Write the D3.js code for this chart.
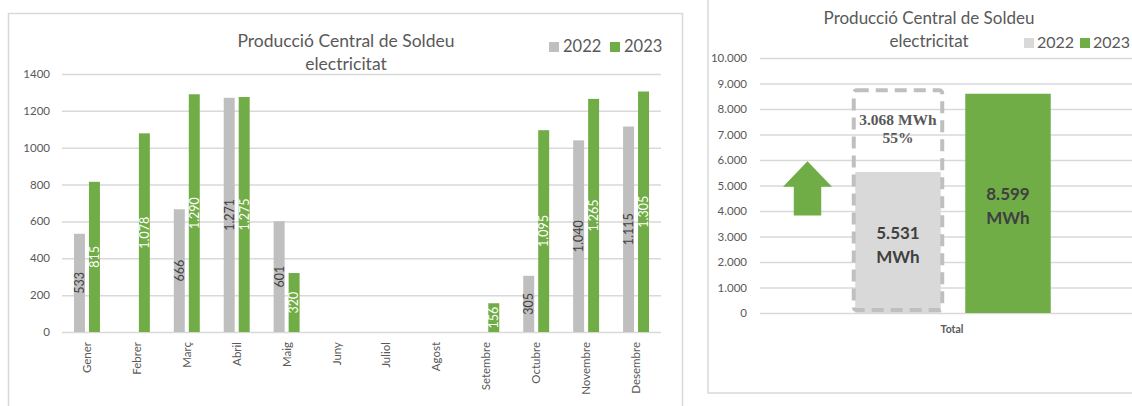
<!DOCTYPE html>
<html>
<head>
<meta charset="utf-8">
<script src="https://cdn.jsdelivr.net/npm/d3@7"></script>
<style>
  body { margin: 0; background: #fff; }
  svg text { font-family: Lato, "Open Sans", sans-serif; fill: #595959; }
</style>
</head>
<body>
<div id="vis"></div>
<script>
// monthly production (MWh), null = no bar
var months = ['Gener', 'Febrer', 'Març', 'Abril', 'Maig', 'Juny', 'Juliol', 'Agost', 'Setembre', 'Octubre', 'Novembre', 'Desembre'];
var years = ['2022', '2023'];
var values2022 = [533, null, 666, 1271, 601, null, null, null, null, 305, 1040, 1115];
var values2023 = [815, 1078, 1290, 1275, 320, null, null, null, 156, 1095, 1265, 1305];
var monthTicks = [0, 200, 400, 600, 800, 1000, 1200, 1400];

// yearly totals
var totalCategory = ['Total'];
var totals = [5531, 8599];
var totalTicks = [0, 1000, 2000, 3000, 4000, 5000, 6000, 7000, 8000, 9000, 10000];

var titleLines = ['Producció Central de Soldeu', 'electricitat'];

var grey = '#BFBFBF', lightGrey = '#D9D9D9', green = '#70AD47', gridColor = '#D9D9D9';

var ca = d3.formatLocale({ decimal: ',', thousands: '.', grouping: [3], currency: ['', ' €'] });
var fmt = ca.format(',d');

var svg = d3.select('#vis').append('svg')
    .attr('width', 1132)
    .attr('height', 406);

/* ****** panel frames ****** */
svg.append('rect')
    .attr('x', 8.5).attr('y', 13.5).attr('width', 674).attr('height', 400)
    .attr('fill', 'none').attr('stroke', gridColor).attr('stroke-width', 1.5);
svg.append('rect')
    .attr('x', 708).attr('y', -10).attr('width', 440).attr('height', 403)
    .attr('fill', 'none').attr('stroke', gridColor).attr('stroke-width', 1.5);

/* ****** left chart: monthly ****** */
var x0 = d3.scaleBand().domain(months).range([62, 661]);
var x1 = d3.scaleBand().domain(years).range([0, x0.bandwidth()]).paddingInner(0.267).paddingOuter(0.8);
var y = d3.scaleLinear().domain([0, 1400]).range([332, 74]);

var left = svg.append('g');

left.selectAll('.grid').data(monthTicks).enter().append('line')
    .attr('x1', 62).attr('x2', 661)
    .attr('y1', function (d) { return y(d) + 0.5; })
    .attr('y2', function (d) { return y(d) + 0.5; })
    .attr('stroke', gridColor).attr('stroke-width', 1.5);

left.selectAll('.ytick').data(monthTicks).enter().append('text')
    .attr('x', 50).attr('y', function (d) { return y(d); })
    .attr('dy', '0.35em').attr('text-anchor', 'end')
    .style('font-size', '11.5px')
    .text(function (d) { return d; });

var rows = [];
months.forEach(function (m, i) {
    rows.push({ month: m, year: '2022', value: values2022[i] });
    rows.push({ month: m, year: '2023', value: values2023[i] });
});
rows = rows.filter(function (d) { return d.value !== null; });

left.selectAll('.bar').data(rows).enter().append('rect')
    .attr('x', function (d) { return x0(d.month) + x1(d.year); })
    .attr('width', x1.bandwidth())
    .attr('y', function (d) { return y(d.value); })
    .attr('height', function (d) { return y(0) - y(d.value); })
    .attr('fill', function (d) { return d.year == '2022' ? grey : green; });

left.selectAll('.lbl').data(rows).enter().append('text')
    .attr('transform', function (d) {
        var cx = x0(d.month) + x1(d.year) + x1.bandwidth() / 2;
        var cy = (y(d.value) + y(0)) / 2;
        return 'translate(' + cx + ',' + cy + ') rotate(-90)';
    })
    .attr('text-anchor', 'middle').attr('dy', '0.35em')
    .style('font-size', '12.5px')
    .style('fill', function (d) { return d.year == '2022' ? '#404040' : '#fff'; })
    .text(function (d) { return fmt(d.value); });

left.selectAll('.xlbl').data(months).enter().append('text')
    .attr('transform', function (d) {
        return 'translate(' + (x0(d) + x0.bandwidth() / 2) + ',342) rotate(-90)';
    })
    .attr('text-anchor', 'end').attr('dy', '0.35em')
    .style('font-size', '11.5px')
    .text(function (d) { return d; });

left.selectAll('.title').data(titleLines).enter().append('text')
    .attr('x', 346).attr('y', function (d, i) { return 47 + i * 23; })
    .attr('text-anchor', 'middle')
    .style('font-size', '17.5px')
    .text(function (d) { return d; });

var legL = left.selectAll('.leg').data(years).enter().append('g')
    .attr('transform', function (d, i) { return 'translate(' + (549 + i * 61) + ',42)'; });
legL.append('rect').attr('width', 10).attr('height', 10)
    .attr('fill', function (d) { return d == '2022' ? grey : green; });
legL.append('text').attr('x', 14).attr('y', 10)
    .style('font-size', '16.5px')
    .text(function (d) { return d; });

/* ****** right chart: totals ****** */
var tx0 = d3.scaleBand().domain(totalCategory).range([760, 1146]);
var tx1 = d3.scaleBand().domain(years).range([0, tx0.bandwidth()]).paddingInner(0.223).paddingOuter(0.866);
var ty = d3.scaleLinear().domain([0, 10000]).range([313, 58]);

var right = svg.append('g');

right.selectAll('.grid').data(totalTicks).enter().append('line')
    .attr('x1', 760).attr('x2', 1132)
    .attr('y1', function (d) { return ty(d) + 0.5; })
    .attr('y2', function (d) { return ty(d) + 0.5; })
    .attr('stroke', gridColor).attr('stroke-width', 1.5);

right.selectAll('.ytick').data(totalTicks).enter().append('text')
    .attr('x', 747).attr('y', function (d) { return ty(d); })
    .attr('dy', '0.35em').attr('text-anchor', 'end')
    .style('font-size', '11.5px')
    .text(function (d) { return fmt(d); });

var totRows = years.map(function (yr, i) { return { year: yr, value: totals[i] }; });

right.selectAll('.bar').data(totRows).enter().append('rect')
    .attr('x', function (d) { return tx0('Total') + tx1(d.year); })
    .attr('width', tx1.bandwidth())
    .attr('y', function (d) { return ty(d.value); })
    .attr('height', function (d) { return ty(0) - ty(d.value); })
    .attr('fill', function (d) { return d.year == '2022' ? lightGrey : green; });

// dashed outline showing 2023 level over the 2022 bar
var bx = tx0('Total') + tx1('2022');
right.append('rect')
    .attr('x', bx - 1.5).attr('width', tx1.bandwidth() + 3)
    .attr('y', ty(totals[1]) - 3.5)
    .attr('height', ty(0) - ty(totals[1]) + 0.5)
    .attr('rx', 3)
    .attr('fill', 'none').attr('stroke', grey)
    .attr('stroke-width', 4).attr('stroke-dasharray', '12,7');

right.selectAll('.lbl').data(totRows).enter().append('text')
    .attr('x', function (d) { return tx0('Total') + tx1(d.year) + tx1.bandwidth() / 2; })
    .attr('y', function (d) { return (ty(d.value) + ty(0)) / 2; })
    .attr('text-anchor', 'middle')
    .style('font-size', '17px').style('font-weight', 'bold')
    .style('fill', '#404040')
    .each(function (d) {
        var t = d3.select(this);
        t.append('tspan').attr('x', t.attr('x')).attr('dy', '-0.2em').text(fmt(d.value));
        t.append('tspan').attr('x', t.attr('x')).attr('dy', '1.4em').text('MWh');
    });

var diff = totals[1] - totals[0];
var pct = Math.floor(diff / totals[0] * 100);
var diffText = right.append('text')
    .attr('x', bx + tx1.bandwidth() / 2)
    .attr('y', (ty(totals[1]) + ty(totals[0])) / 2 - 8)
    .attr('text-anchor', 'middle')
    .style('font-family', '"Liberation Serif", "DejaVu Serif", serif')
    .style('font-size', '15.5px').style('font-weight', 'bold');
diffText.append('tspan').attr('x', bx + tx1.bandwidth() / 2).text(fmt(diff) + ' MWh');
diffText.append('tspan').attr('x', bx + tx1.bandwidth() / 2).attr('dy', '1.2em').text(pct + '%');

// green up arrow
var ax = d3.scaleLinear().domain([0, 1]).range([783, 832]);
var arrowPts = [[0.5, 5950], [1, 4950], [0.78, 4950], [0.78, 3820], [0.22, 3820], [0.22, 4950], [0, 4950]];
right.append('path')
    .attr('d', d3.line()
        .x(function (d) { return ax(d[0]); })
        .y(function (d) { return ty(d[1]); })(arrowPts) + 'Z')
    .attr('fill', green);

right.append('text')
    .attr('x', tx0('Total') + tx0.bandwidth() / 2 - 1).attr('y', 333)
    .attr('text-anchor', 'middle')
    .style('font-size', '10.5px').style('font-weight', 'bold')
    .text('Total');

right.selectAll('.title').data(titleLines).enter().append('text')
    .attr('x', 929).attr('y', function (d, i) { return 24 + i * 23; })
    .attr('text-anchor', 'middle')
    .style('font-size', '17px')
    .text(function (d) { return d; });

var legR = right.selectAll('.leg').data(years).enter().append('g')
    .attr('transform', function (d, i) { return 'translate(' + (1024 + i * 56) + ',38)'; });
legR.append('rect').attr('width', 10).attr('height', 10)
    .attr('fill', function (d) { return d == '2022' ? lightGrey : green; });
legR.append('text').attr('x', 13).attr('y', 10)
    .style('font-size', '16px')
    .text(function (d) { return d; });
</script>
</body>
</html>
